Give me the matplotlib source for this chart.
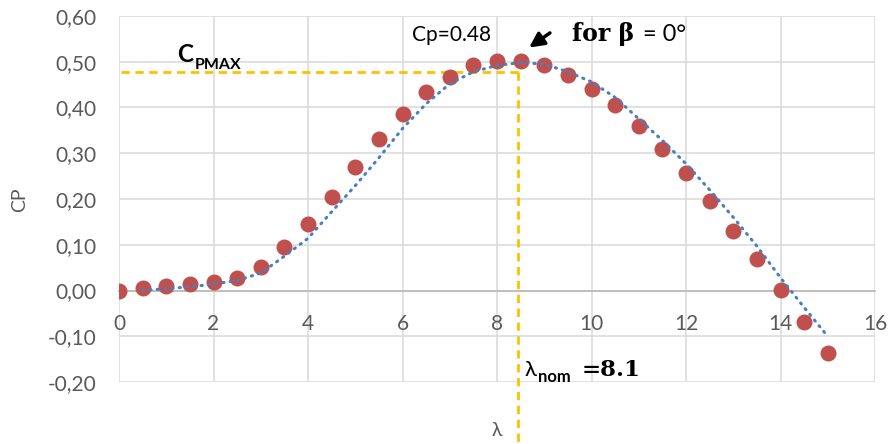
"""Power coefficient curve CP(lambda) with its trend line."""

import matplotlib

matplotlib.use("Agg")
from matplotlib import pyplot as plt
from matplotlib.ticker import FuncFormatter, MultipleLocator

# measured points
lam = [0.0, 0.5, 1.0, 1.5, 2.0, 2.5, 3.0, 3.5, 4.0, 4.5, 5.0, 5.5, 6.0, 6.5, 7.0, 7.5,
       8.0, 8.5, 9.0, 9.5, 10.0, 10.5, 11.0, 11.5, 12.0, 12.5, 13.0, 13.5, 14.0, 14.5, 15.0]
cp = [0.000, 0.005, 0.010, 0.015, 0.018, 0.028, 0.052, 0.094, 0.146, 0.205, 0.271, 0.332,
      0.386, 0.434, 0.467, 0.493, 0.502, 0.502, 0.492, 0.472, 0.441, 0.406, 0.360, 0.310,
      0.256, 0.196, 0.131, 0.068, 0.002, -0.068, -0.137]

# trend line
trend_lam = [0.5, 1.0, 1.5, 2.0, 2.5, 3.0, 3.5, 4.0, 4.5, 5.0, 5.5, 6.0, 6.5, 7.0, 7.5, 8.0,
             8.5, 9.0, 9.5, 10.0, 10.5, 11.0, 11.5, 12.0, 12.5, 13.0, 13.5, 14.0, 14.5, 14.95]
trend_cp = [0.000, 0.004, 0.008, 0.014, 0.022, 0.038, 0.075, 0.114, 0.172, 0.229, 0.290,
            0.354, 0.408, 0.452, 0.478, 0.492, 0.498, 0.495, 0.478, 0.456, 0.422, 0.375,
            0.328, 0.277, 0.220, 0.160, 0.097, 0.028, -0.037, -0.094]

cp_max = 0.478
lam_nom = 8.44

GRID = "#D9D9D9"
GREY = "#595959"
SANS = "Lato"
SERIF = "DejaVu Serif"

fig = plt.figure(figsize=(8.89, 4.44), dpi=100)
ax = fig.add_axes([119 / 889, 1 - 382 / 444, 756 / 889, 366 / 444])

ax.set_xlim(0, 16)
ax.set_ylim(-0.2, 0.6)
ax.xaxis.set_major_locator(MultipleLocator(2))
ax.yaxis.set_major_locator(MultipleLocator(0.1))
ax.yaxis.set_major_formatter(
    FuncFormatter(lambda v, _: f"{v:.2f}".replace(".", ",").replace("-0,00", "0,00"))
)
ax.grid(True, color=GRID, linewidth=1.1)
ax.set_axisbelow(True)

for side in ("top", "right", "left"):
    ax.spines[side].set_visible(False)
ax.spines["bottom"].set_position(("data", 0))
ax.spines["bottom"].set_color("#BFBFBF")
ax.spines["bottom"].set_linewidth(1.4)

ax.tick_params(axis="both", length=0, labelsize=15, labelcolor=GREY, labelfontfamily=SANS)
ax.tick_params(axis="x", pad=17)
ax.tick_params(axis="y", pad=16)

ax.plot(lam, cp, "o", color="#C0504D", markersize=11.5, markeredgewidth=0, zorder=3)
ax.plot(trend_lam, trend_cp, color="#4A7EC0", linewidth=2.2,
        linestyle=(0, (0.4, 2.0)), dash_capstyle="round", zorder=4)

# rated point guide lines
dash = dict(color="#FFC000", linewidth=2, linestyle=(0, (3, 2)), zorder=2, clip_on=False)
ax.plot([0.05, lam_nom], [cp_max, cp_max], **dash)
ax.plot([lam_nom, lam_nom], [cp_max, -0.34], **dash)

ax.text(1.22, 0.50, "C", fontsize=17.5, fontweight="bold", family=SANS, va="baseline")
ax.text(1.6, 0.485, "PMAX", fontsize=11.5, fontweight="bold", family=SANS, va="baseline")
ax.text(6.2, 0.546, "Cp=0.48", fontsize=15, family=SANS, va="baseline")
ax.text(9.59, 0.546, "for β", fontsize=17, fontweight="bold", family=SERIF, va="baseline")
ax.text(11.09, 0.546, "= 0°", fontsize=17, family=SANS, va="baseline")
ax.annotate("", xy=(8.68, 0.531), xytext=(9.12, 0.563),
            arrowprops=dict(arrowstyle="-|>", color="black", lw=2.5,
                            mutation_scale=22, shrinkA=0, shrinkB=0))

ax.text(8.59, -0.186, "λ", fontsize=16, family=SANS, va="baseline", clip_on=False)
ax.text(8.87, -0.199, "nom", fontsize=12, fontweight="bold", family=SANS, va="baseline",
        clip_on=False)
ax.text(9.8, -0.186, "=8.1", fontsize=16.5, fontweight="bold", family=SERIF, va="baseline",
        clip_on=False)

ax.text(8.0, -0.306, "λ", fontsize=14, color=GREY, family=SANS, ha="center", va="center",
        clip_on=False)
fig.text(20 / 889, 1 - 200 / 444, "CP", fontsize=14, color=GREY, family=SANS,
         rotation=90, ha="center", va="center")

fig.savefig("out.png", dpi=100)
